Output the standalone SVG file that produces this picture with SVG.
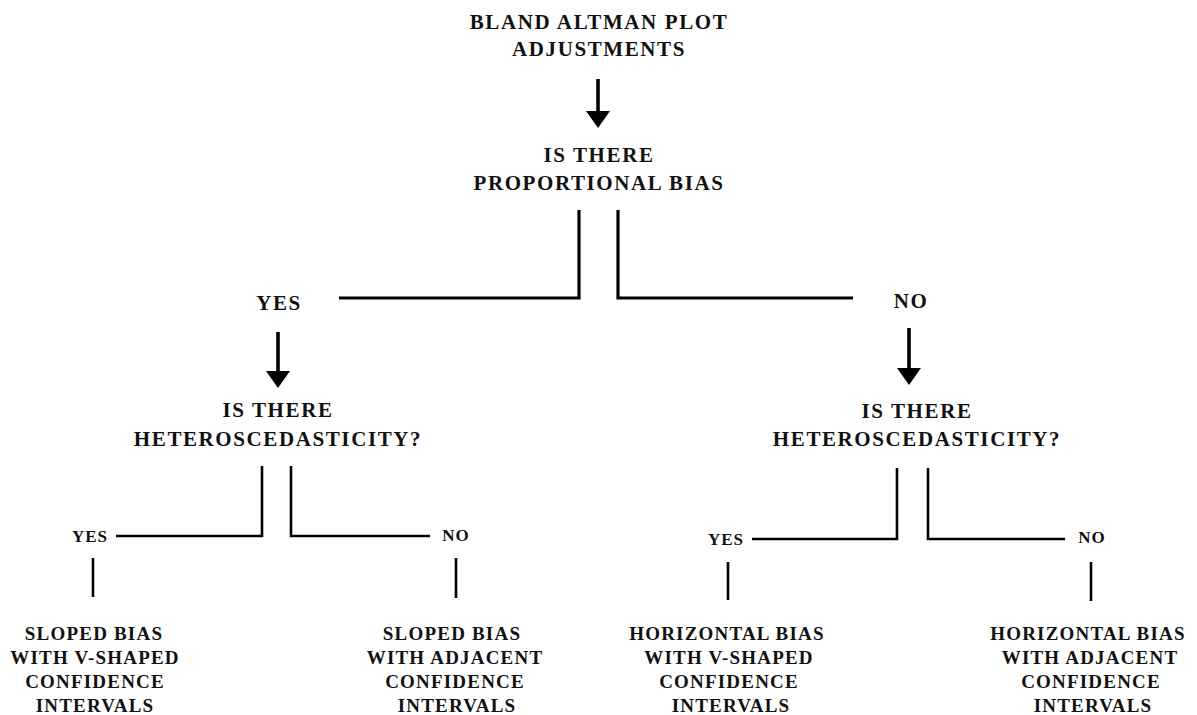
<svg xmlns="http://www.w3.org/2000/svg" width="1197" height="715" viewBox="0 0 1197 715">
<style>
text{font-family:"Liberation Serif","Times New Roman",serif;font-weight:bold;fill:#111;text-anchor:middle}
.big{font-size:21px;letter-spacing:1.6px}
.sm{font-size:17px;letter-spacing:1px}
.res{font-size:19px;letter-spacing:1.2px}
.main{fill:none;stroke:#000;stroke-width:3.2}
.sub{fill:none;stroke:#000;stroke-width:2.6}
.arr{fill:none;stroke:#000;stroke-width:3.6}
</style>
<defs>
<marker id="ah" markerUnits="userSpaceOnUse" markerWidth="17" markerHeight="24" refX="0" refY="12" orient="auto" viewBox="0 0 17 24">
<path d="M0,0 L17,12 L0,24 Z" fill="#000"/>
</marker>
</defs>
<rect width="1197" height="715" fill="#fff"/>
<g id="connectors">
<line class="arr" x1="598" y1="79" x2="598" y2="111" marker-end="url(#ah)"/>
<path class="main" d="M579,210 V298 H339"/>
<path class="main" d="M618,210 V298 H853"/>
<line class="arr" x1="278" y1="332" x2="278" y2="371" marker-end="url(#ah)"/>
<line class="arr" x1="909" y1="328" x2="909" y2="368" marker-end="url(#ah)"/>
<path class="sub" d="M262,466 V536 H116"/>
<path class="sub" d="M291,466 V536 H430"/>
<path class="sub" d="M897,468 V539 H752"/>
<path class="sub" d="M928,468 V539 H1065"/>
<line class="sub" x1="93" y1="558" x2="93" y2="597"/>
<line class="sub" x1="456" y1="558" x2="456" y2="598"/>
<line class="sub" x1="728" y1="562" x2="728" y2="600"/>
<line class="sub" x1="1091" y1="562" x2="1091" y2="601"/>
</g>
<g id="title">
<text class="big" x="599" y="29">BLAND ALTMAN PLOT</text>
<text class="big" x="599" y="56">ADJUSTMENTS</text>
</g>
<g id="q-proportional">
<text class="big" x="599" y="162">IS THERE</text>
<text class="big" x="599" y="190">PROPORTIONAL BIAS</text>
</g>
<g id="yes-1"><text class="big" x="279" y="310">YES</text></g>
<g id="no-1"><text class="big" x="911" y="308">NO</text></g>
<g id="q-hetero-left">
<text class="big" x="278" y="417">IS THERE</text>
<text class="big" x="278" y="446">HETEROSCEDASTICITY?</text>
</g>
<g id="q-hetero-right">
<text class="big" x="917" y="418">IS THERE</text>
<text class="big" x="917" y="446">HETEROSCEDASTICITY?</text>
</g>
<g id="yes-2a"><text class="sm" x="90" y="542">YES</text></g>
<g id="no-2a"><text class="sm" x="456" y="541">NO</text></g>
<g id="yes-2b"><text class="sm" x="726" y="545">YES</text></g>
<g id="no-2b"><text class="sm" x="1092" y="543">NO</text></g>
<g id="result-1">
<text class="res" x="94" y="640">SLOPED BIAS</text>
<text class="res" x="95" y="664">WITH V-SHAPED</text>
<text class="res" x="95" y="688">CONFIDENCE</text>
<text class="res" x="95" y="712">INTERVALS</text>
</g>
<g id="result-2">
<text class="res" x="452" y="640">SLOPED BIAS</text>
<text class="res" x="455" y="664">WITH ADJACENT</text>
<text class="res" x="455" y="688">CONFIDENCE</text>
<text class="res" x="457" y="712">INTERVALS</text>
</g>
<g id="result-3">
<text class="res" x="727" y="640">HORIZONTAL BIAS</text>
<text class="res" x="729" y="664">WITH V-SHAPED</text>
<text class="res" x="729" y="688">CONFIDENCE</text>
<text class="res" x="731" y="712">INTERVALS</text>
</g>
<g id="result-4">
<text class="res" x="1088" y="640">HORIZONTAL BIAS</text>
<text class="res" x="1090" y="664">WITH ADJACENT</text>
<text class="res" x="1091" y="688">CONFIDENCE</text>
<text class="res" x="1093" y="712">INTERVALS</text>
</g>
</svg>
